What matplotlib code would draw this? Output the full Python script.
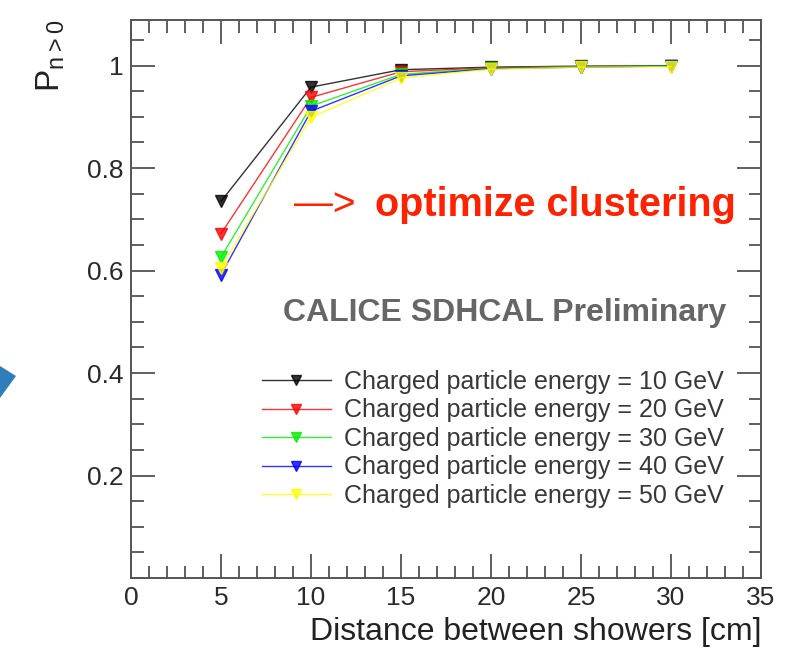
import numpy as np
import matplotlib.pyplot as plt
from matplotlib.patches import Polygon
from matplotlib.ticker import MultipleLocator

plt.rcParams['font.family'] = ['Liberation Sans', 'DejaVu Sans']

# Distance between showers [cm]
distance = [5, 10, 15, 20, 25, 30]

# P(n>0) per charged particle energy
p_10gev = [0.735, 0.958, 0.992, 0.997, 0.999, 1.000]
p_20gev = [0.672, 0.938, 0.988, 0.996, 0.998, 0.999]
p_30gev = [0.626, 0.921, 0.983, 0.995, 0.998, 1.000]
p_40gev = [0.592, 0.911, 0.980, 0.994, 0.997, 0.999]
p_50gev = [0.605, 0.899, 0.976, 0.993, 0.997, 0.998]

labels = ['Charged particle energy = 10 GeV',
          'Charged particle energy = 20 GeV',
          'Charged particle energy = 30 GeV',
          'Charged particle energy = 40 GeV',
          'Charged particle energy = 50 GeV']
colors = ['black', '#ff0000', '#00ee00', '#0000ff', '#ffff00']

W, H = 793, 656
fig = plt.figure(figsize=(W / 100, H / 100), dpi=100)
ax = fig.add_axes([131 / W, 1 - 578 / H, 630 / W, 558 / H])

series = [p_10gev, p_20gev, p_30gev, p_40gev, p_50gev]
for vals, lab, col in zip(series, labels, colors):
    ax.plot(distance, vals, color=col, lw=1.0, alpha=0.8,
            marker='v', markersize=8, markerfacecolor=col,
            markeredgecolor=col, label=lab)

ax.set_xlim(0, 35)
ax.set_ylim(0, 1.089)
ax.xaxis.set_major_locator(MultipleLocator(5))
ax.xaxis.set_minor_locator(MultipleLocator(1))
ax.yaxis.set_minor_locator(MultipleLocator(0.05))
ax.set_yticks([0.2, 0.4, 0.6, 0.8, 1.0])
ax.set_yticklabels(['0.2', '0.4', '0.6', '0.8', '1'])
ax.tick_params(which='both', direction='in', top=True, right=True,
               labelsize=19, colors='#444444', labelcolor='#2a2a2a')
ax.tick_params(which='major', length=17, width=1.2)
ax.tick_params(which='minor', length=9, width=1.2)
ax.tick_params(axis='x', pad=6)
ax.tick_params(axis='y', pad=5.5)
for s in ax.spines.values():
    s.set_color('#555555')
    s.set_linewidth(1.4)

ax.set_xlabel('Distance between showers [cm]', fontsize=23,
              color='#222222', loc='right', labelpad=5)
ax.set_ylabel(r'P$_{\mathregular{n>0}}$', fontsize=24, color='#222222',
              loc='top', labelpad=14)

leg = ax.legend(loc='upper left', bbox_to_anchor=(262 / W, 1 - 370 / H),
                bbox_transform=fig.transFigure, frameon=False, fontsize=18,
                handlelength=2.75, handletextpad=0.55, labelspacing=0.18,
                borderaxespad=0, borderpad=0, labelcolor='#383838')
for h in leg.legend_handles:
    h.set_markersize(7)

fig.text(283 / W, 1 - 321 / H, 'CALICE SDHCAL Preliminary', fontsize=23,
         fontweight='bold', color='#666666', va='baseline')
fig.text(294 / W, 1 - 205 / H, '\u2014>', fontsize=28, color='#ff2200',
         va='center')
fig.text(375 / W, 1 - 216 / H, 'optimize clustering', fontsize=28.5,
         fontweight='bold', color='#ff2200', va='baseline')

# blue pointer fragment at the left edge
arrow = Polygon([(0, 1 - 366 / H), (16 / W, 1 - 376 / H), (0, 1 - 398 / H)],
                closed=True, transform=fig.transFigure,
                facecolor='#2f7dbb', edgecolor='none')
fig.patches.append(arrow)

fig.savefig('out.png', dpi=100)
